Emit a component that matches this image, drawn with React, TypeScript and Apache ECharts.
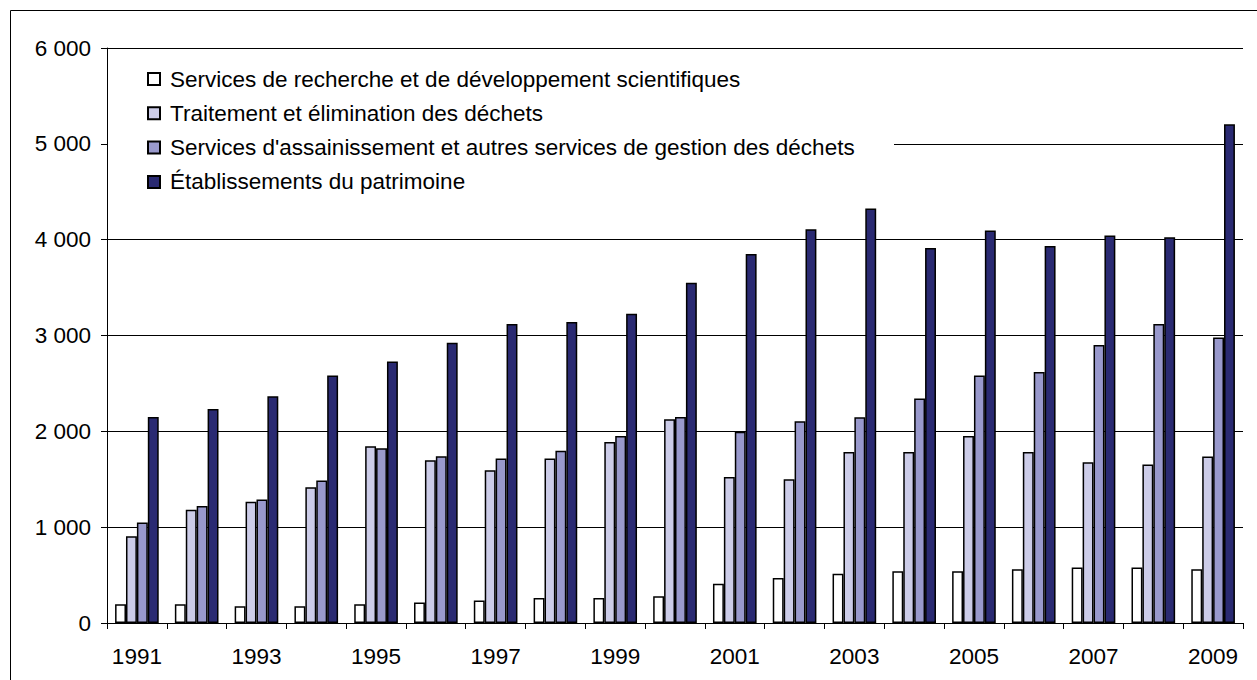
import React, { useEffect, useRef } from "react";
import * as echarts from "echarts";

const years = ["1991","1992","1993","1994","1995","1996","1997","1998","1999","2000","2001","2002","2003","2004","2005","2006","2007","2008","2009"];
const seriesNames = [
  "Services de recherche et de développement scientifiques",
  "Traitement et élimination des déchets",
  "Services d'assainissement et autres services de gestion des déchets",
  "Établissements du patrimoine",
];
const research = [195,195,175,175,195,215,235,260,260,280,410,470,515,540,540,560,580,580,560];
const wasteTreatment = [905,1183,1266,1416,1844,1698,1594,1716,1889,2125,1524,1500,1785,1785,1952,1785,1677,1653,1737];
const sanitation = [1050,1220,1290,1486,1823,1740,1716,1797,1952,2150,1995,2106,2146,2342,2583,2620,2902,3119,2980];
const heritage = [2150,2234,2367,2583,2729,2924,3119,3140,3227,3551,3851,4109,4325,3914,4095,3935,4043,4025,5204];
const colors = ["#FFFFFF", "#CCCCE8", "#9999CC", "#2A2A72"];
const yMin = 0;
const yMax = 6000;
const yStep = 1000;

const FONT = "'Liberation Sans', Arial, sans-serif";
const FS = 22.5;

function fmt(v: number): string {
  return String(v).replace(/\B(?=(\d{3})+(?!\d))/g, " ");
}

export default function App() {
  const ref = useRef<HTMLDivElement>(null);
  useEffect(() => {
    if (!ref.current) return;
    const chart = echarts.init(ref.current, undefined, { renderer: "svg" });
    const data = [research, wasteTreatment, sanitation, heritage];
    chart.setOption({
      animation: false,
      backgroundColor: "#fff",
      textStyle: { fontFamily: FONT },
      grid: { left: 107, right: 14, top: 48, bottom: 57, containLabel: false },
      graphic: [
        {
          type: "rect",
          z: 100,
          silent: true,
          shape: { x: 10.5, y: 10.5, width: 1300, height: 720 },
          style: { fill: "none", stroke: "#000", lineWidth: 1 },
        },
        {
          type: "rect",
          z: 1,
          silent: true,
          shape: { x: 108, y: 58, width: 786, height: 145 },
          style: { fill: "#fff", stroke: "none" },
        },
      ],
      legend: {
        orient: "vertical",
        left: 147,
        top: 67,
        padding: 0,
        itemWidth: 12,
        itemHeight: 12,
        itemGap: 10.3,
        icon: "rect",
        z: 5,
        textStyle: {
          fontFamily: FONT,
          fontSize: FS,
          color: "#000",
          lineHeight: 24,
          padding: [0, 0, 0, 5],
        },
        data: seriesNames,
      },
      xAxis: {
        type: "category",
        data: years,
        axisLine: { show: true, lineStyle: { color: "#000", width: 1 } },
        axisTick: { show: true, interval: 0, length: 6, alignWithLabel: false, lineStyle: { color: "#000" } },
        axisLabel: { interval: 1, margin: 22, fontSize: FS, color: "#000", fontFamily: FONT },
        splitLine: { show: false },
      },
      yAxis: {
        type: "value",
        min: yMin,
        max: yMax,
        interval: yStep,
        axisLine: { show: true, lineStyle: { color: "#000", width: 1 } },
        axisTick: { show: true, length: 6, lineStyle: { color: "#000" } },
        axisLabel: { margin: 16, fontSize: FS, color: "#000", fontFamily: FONT, formatter: (v: number) => fmt(v) },
        splitLine: { show: true, lineStyle: { color: "#000", width: 1 } },
      },
      series: seriesNames.map((name, i) => ({
        name,
        type: "bar",
        data: data[i],
        barGap: "0%",
        barCategoryGap: "27%",
        z: 2,
        itemStyle: { color: colors[i], borderColor: "#000", borderWidth: 1.5 },
      })),
    });
    return () => chart.dispose();
  }, []);
  return (
    <div
      ref={ref}
      style={{ position: "fixed", left: 0, top: 0, width: 1257, height: 680 }}
    />
  );
}
